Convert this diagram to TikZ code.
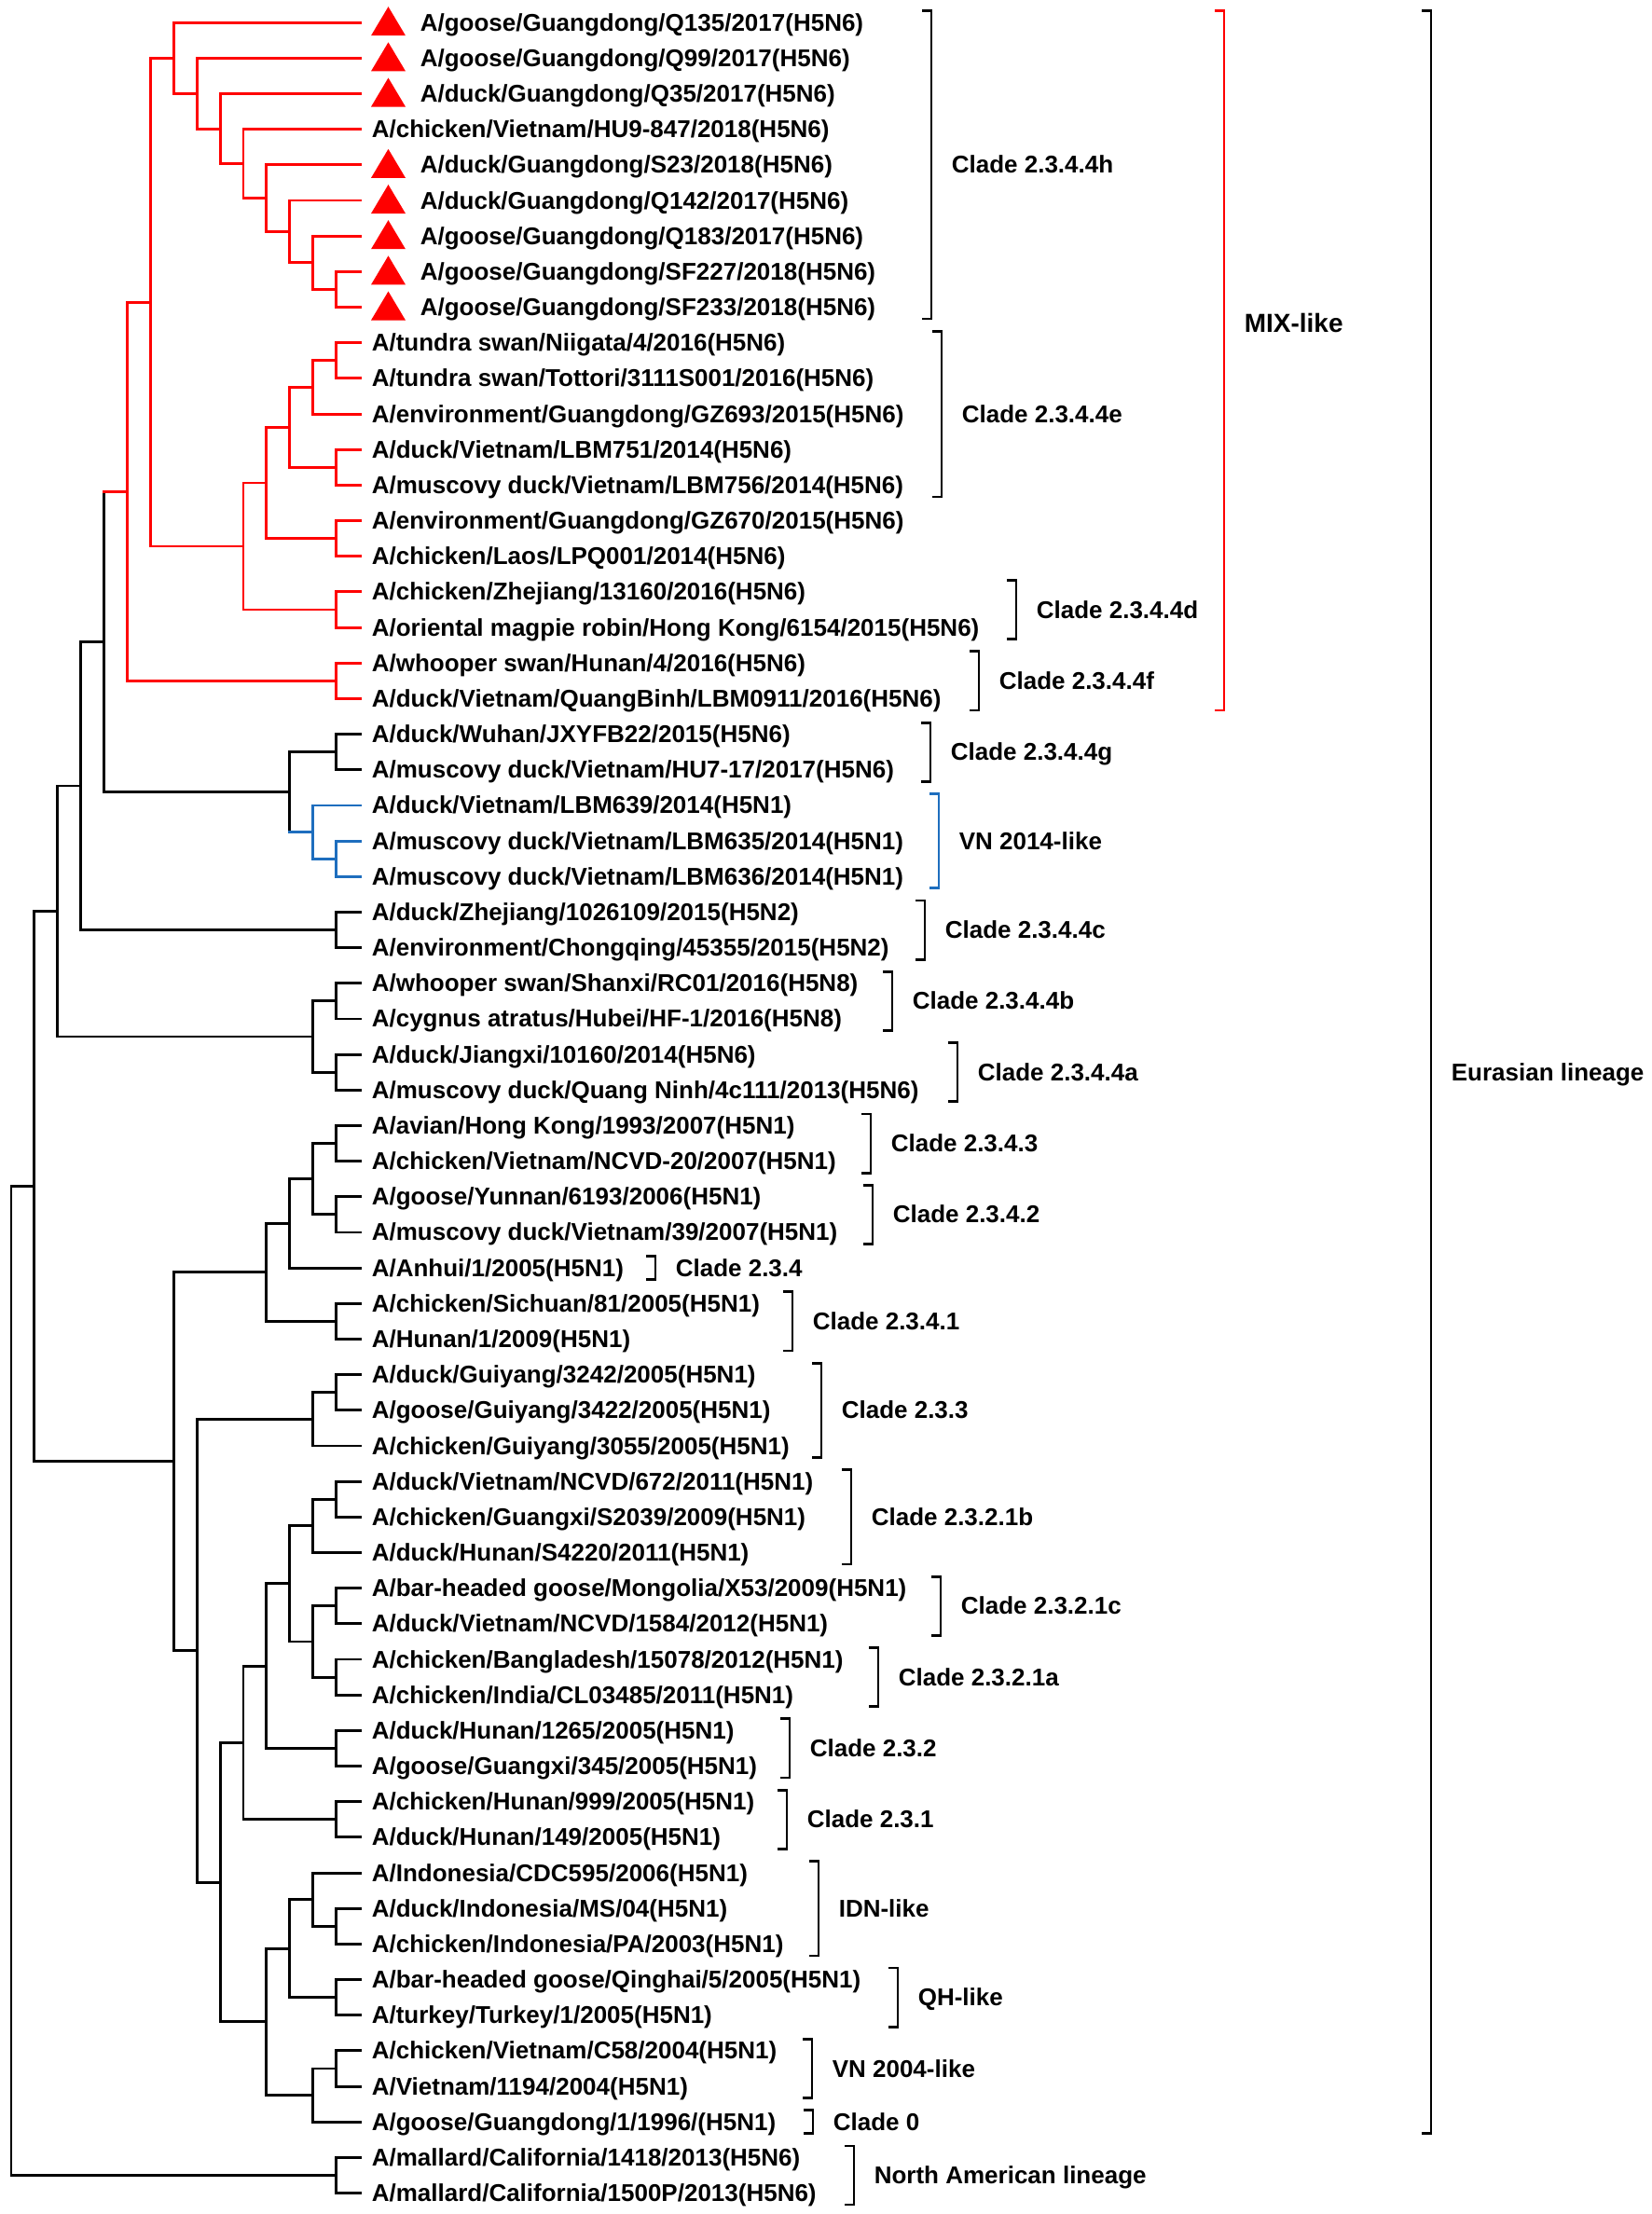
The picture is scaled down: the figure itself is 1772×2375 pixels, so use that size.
\documentclass[tikz,border=0pt]{standalone}
\usepackage{fontspec}
\setmainfont{Liberation Sans}
\usetikzlibrary{calc}
\definecolor{vnblue}{RGB}{30,110,190}
\definecolor{mixred}{RGB}{255,0,0}
\newcommand\LX[1]{(12+24.9*#1)}
\newcommand\RY[1]{(24.2+38.17*(#1-1))}
% leaf: row, text x, text
\newcommand\lf[3]{%
  \coordinate (L#1) at (387,{\RY{#1}});
  \node[leaftext] (t#1) at (#2,{\RY{#1}+9}) {#3};}
% leaf with red triangle
\newcommand\lft[2]{\lf{#1}{450}{#2}%
  \fill[tri] ($(L#1)+(11,14)$) -- ($(L#1)+(48,14)$) -- ($(L#1)+(29.5,-17)$) -- cycle;}
% internal node coordinate: name, level, child1, child2
\newcommand\nc[4]{\path let \p1=(#3), \p2=(#4) in coordinate (#1) at ({\LX{#2}*0.25pt},{(\y1+\y2)/2});}
% internal node with its edges
\newcommand\nd[5]{\nc{#1}{#2}{#3}{#4}\draw[#5] (#3) -| (#1) |- (#4);}
% bracket: style, first row, last row, x, name, label
\newcommand\brk[6]{%
  \draw[brk,#1] (#4-10,{\RY{#2}-12.5}) -- (#4,{\RY{#2}-12.5}) -- (#4,{\RY{#3}+12.5}) -- (#4-10,{\RY{#3}+12.5});
  \node[leaftext] (#5) at (#4+21,{(\RY{#2}+\RY{#3})/2+9}) {#6};}
\begin{document}
\begin{tikzpicture}[x=0.25pt,y=-0.25pt,
  tree/.style={line width=0.72pt,line join=miter,line cap=rect},
  mix/.style={tree,draw=mixred},
  vn/.style={tree,draw=vnblue},
  leaftext/.style={anchor=base west,inner sep=0pt,font=\fontsize{6.5}{7}\selectfont\bfseries},
  brk/.style={line width=0.7pt},
  tri/.style={fill=mixred}]
\fill[white] (0,0) rectangle (1772,2375);
\path[use as bounding box] (0,0) rectangle (1772,2375);
% leaves
\lft{1}{A/goose/Guangdong/Q135/2017(H5N6)}
\lft{2}{A/goose/Guangdong/Q99/2017(H5N6)}
\lft{3}{A/duck/Guangdong/Q35/2017(H5N6)}
\lf{4}{398}{A/chicken/Vietnam/HU9-847/2018(H5N6)}
\lft{5}{A/duck/Guangdong/S23/2018(H5N6)}
\lft{6}{A/duck/Guangdong/Q142/2017(H5N6)}
\lft{7}{A/goose/Guangdong/Q183/2017(H5N6)}
\lft{8}{A/goose/Guangdong/SF227/2018(H5N6)}
\lft{9}{A/goose/Guangdong/SF233/2018(H5N6)}
\lf{10}{398}{A/tundra swan/Niigata/4/2016(H5N6)}
\lf{11}{398}{A/tundra swan/Tottori/3111S001/2016(H5N6)}
\lf{12}{398}{A/environment/Guangdong/GZ693/2015(H5N6)}
\lf{13}{398}{A/duck/Vietnam/LBM751/2014(H5N6)}
\lf{14}{398}{A/muscovy duck/Vietnam/LBM756/2014(H5N6)}
\lf{15}{398}{A/environment/Guangdong/GZ670/2015(H5N6)}
\lf{16}{398}{A/chicken/Laos/LPQ001/2014(H5N6)}
\lf{17}{398}{A/chicken/Zhejiang/13160/2016(H5N6)}
\lf{18}{398}{A/oriental magpie robin/Hong Kong/6154/2015(H5N6)}
\lf{19}{398}{A/whooper swan/Hunan/4/2016(H5N6)}
\lf{20}{398}{A/duck/Vietnam/QuangBinh/LBM0911/2016(H5N6)}
\lf{21}{398}{A/duck/Wuhan/JXYFB22/2015(H5N6)}
\lf{22}{398}{A/muscovy duck/Vietnam/HU7-17/2017(H5N6)}
\lf{23}{398}{A/duck/Vietnam/LBM639/2014(H5N1)}
\lf{24}{398}{A/muscovy duck/Vietnam/LBM635/2014(H5N1)}
\lf{25}{398}{A/muscovy duck/Vietnam/LBM636/2014(H5N1)}
\lf{26}{398}{A/duck/Zhejiang/1026109/2015(H5N2)}
\lf{27}{398}{A/environment/Chongqing/45355/2015(H5N2)}
\lf{28}{398}{A/whooper swan/Shanxi/RC01/2016(H5N8)}
\lf{29}{398}{A/cygnus atratus/Hubei/HF-1/2016(H5N8)}
\lf{30}{398}{A/duck/Jiangxi/10160/2014(H5N6)}
\lf{31}{398}{A/muscovy duck/Quang Ninh/4c111/2013(H5N6)}
\lf{32}{398}{A/avian/Hong Kong/1993/2007(H5N1)}
\lf{33}{398}{A/chicken/Vietnam/NCVD-20/2007(H5N1)}
\lf{34}{398}{A/goose/Yunnan/6193/2006(H5N1)}
\lf{35}{398}{A/muscovy duck/Vietnam/39/2007(H5N1)}
\lf{36}{398}{A/Anhui/1/2005(H5N1)}
\lf{37}{398}{A/chicken/Sichuan/81/2005(H5N1)}
\lf{38}{398}{A/Hunan/1/2009(H5N1)}
\lf{39}{398}{A/duck/Guiyang/3242/2005(H5N1)}
\lf{40}{398}{A/goose/Guiyang/3422/2005(H5N1)}
\lf{41}{398}{A/chicken/Guiyang/3055/2005(H5N1)}
\lf{42}{398}{A/duck/Vietnam/NCVD/672/2011(H5N1)}
\lf{43}{398}{A/chicken/Guangxi/S2039/2009(H5N1)}
\lf{44}{398}{A/duck/Hunan/S4220/2011(H5N1)}
\lf{45}{398}{A/bar-headed goose/Mongolia/X53/2009(H5N1)}
\lf{46}{398}{A/duck/Vietnam/NCVD/1584/2012(H5N1)}
\lf{47}{398}{A/chicken/Bangladesh/15078/2012(H5N1)}
\lf{48}{398}{A/chicken/India/CL03485/2011(H5N1)}
\lf{49}{398}{A/duck/Hunan/1265/2005(H5N1)}
\lf{50}{398}{A/goose/Guangxi/345/2005(H5N1)}
\lf{51}{398}{A/chicken/Hunan/999/2005(H5N1)}
\lf{52}{398}{A/duck/Hunan/149/2005(H5N1)}
\lf{53}{398}{A/Indonesia/CDC595/2006(H5N1)}
\lf{54}{398}{A/duck/Indonesia/MS/04(H5N1)}
\lf{55}{398}{A/chicken/Indonesia/PA/2003(H5N1)}
\lf{56}{398}{A/bar-headed goose/Qinghai/5/2005(H5N1)}
\lf{57}{398}{A/turkey/Turkey/1/2005(H5N1)}
\lf{58}{398}{A/chicken/Vietnam/C58/2004(H5N1)}
\lf{59}{398}{A/Vietnam/1194/2004(H5N1)}
\lf{60}{398}{A/goose/Guangdong/1/1996/(H5N1)}
\lf{61}{398}{A/mallard/California/1418/2013(H5N6)}
\lf{62}{398}{A/mallard/California/1500P/2013(H5N6)}
% MIX-like clade
\nd{a14}{14}{L8}{L9}{mix}
\nd{a13}{13}{L7}{a14}{mix}
\nd{a12}{12}{L6}{a13}{mix}
\nd{a11}{11}{L5}{a12}{mix}
\nd{a10}{10}{L4}{a11}{mix}
\nd{a9}{9}{L3}{a10}{mix}
\nd{a8}{8}{L2}{a9}{mix}
\nd{a7}{7}{L1}{a8}{mix}
\nd{b14}{14}{L10}{L11}{mix}
\nd{b13}{13}{b14}{L12}{mix}
\nd{c14}{14}{L13}{L14}{mix}
\nd{b12}{12}{b13}{c14}{mix}
\nd{d14}{14}{L15}{L16}{mix}
\nd{b11}{11}{b12}{d14}{mix}
\nd{e14}{14}{L17}{L18}{mix}
\nd{b10}{10}{b11}{e14}{mix}
\nd{a6}{6}{a7}{b10}{mix}
\nd{f14}{14}{L19}{L20}{mix}
\nd{a5}{5}{a6}{f14}{mix}
% 2.3.4.4g and VN 2014-like
\nd{g14}{14}{L21}{L22}{tree}
\nd{h14}{14}{L24}{L25}{vn}
\nd{h13}{13}{L23}{h14}{vn}
\nc{g12}{12}{g14}{h13}
\draw[tree] (g14) -| (g12) -- (g12 |- h13);
\draw[vn] (g12 |- h13) -- (h13);
\nc{a4}{4}{a5}{g12}
\draw[tree] (a4 |- a5) -- (a4) |- (g12);
\draw[mix] (a4 |- a5) -- (a5);
% rest of the tree
\nd{i14}{14}{L26}{L27}{tree}
\nd{a3}{3}{a4}{i14}{tree}
\nd{j14}{14}{L28}{L29}{tree}
\nd{k14}{14}{L30}{L31}{tree}
\nd{j13}{13}{j14}{k14}{tree}
\nd{a2}{2}{a3}{j13}{tree}
\nd{m14}{14}{L32}{L33}{tree}
\nd{n14}{14}{L34}{L35}{tree}
\nd{m13}{13}{m14}{n14}{tree}
\nd{m12}{12}{m13}{L36}{tree}
\nd{o14}{14}{L37}{L38}{tree}
\nd{m11}{11}{m12}{o14}{tree}
\nd{p14}{14}{L39}{L40}{tree}
\nd{p13}{13}{p14}{L41}{tree}
\nd{q14}{14}{L42}{L43}{tree}
\nd{q13}{13}{q14}{L44}{tree}
\nd{r14}{14}{L45}{L46}{tree}
\nd{s14}{14}{L47}{L48}{tree}
\nd{r13}{13}{r14}{s14}{tree}
\nd{q12}{12}{q13}{r13}{tree}
\nd{t14}{14}{L49}{L50}{tree}
\nd{q11}{11}{q12}{t14}{tree}
\nd{u14}{14}{L51}{L52}{tree}
\nd{q10}{10}{q11}{u14}{tree}
\nd{v14}{14}{L54}{L55}{tree}
\nd{v13}{13}{L53}{v14}{tree}
\nd{w14}{14}{L56}{L57}{tree}
\nd{v12}{12}{v13}{w14}{tree}
\nd{x14}{14}{L58}{L59}{tree}
\nd{x13}{13}{x14}{L60}{tree}
\nd{v11}{11}{v12}{x13}{tree}
\nd{q9}{9}{q10}{v11}{tree}
\nd{p8}{8}{p13}{q9}{tree}
\nd{m7}{7}{m11}{p8}{tree}
\nd{a1}{1}{a2}{m7}{tree}
\nd{y14}{14}{L61}{L62}{tree}
\nd{root}{0}{a1}{y14}{tree}
% clade brackets
\brk{}{1}{9}{999}{c1}{Clade 2.3.4.4h}
\brk{}{10}{14}{1010}{c2}{Clade 2.3.4.4e}
\brk{}{17}{18}{1090}{c3}{Clade 2.3.4.4d}
\brk{}{19}{20}{1050}{c4}{Clade 2.3.4.4f}
\brk{}{21}{22}{998}{c5}{Clade 2.3.4.4g}
\brk{draw=vnblue}{23}{25}{1007}{c6}{VN 2014-like}
\brk{}{26}{27}{992}{c7}{Clade 2.3.4.4c}
\brk{}{28}{29}{957}{c8}{Clade 2.3.4.4b}
\brk{}{30}{31}{1027}{c9}{Clade 2.3.4.4a}
\brk{}{32}{33}{934}{c10}{Clade 2.3.4.3}
\brk{}{34}{35}{936}{c11}{Clade 2.3.4.2}
\brk{}{36}{36}{703}{c12}{Clade 2.3.4}
\brk{}{37}{38}{850}{c13}{Clade 2.3.4.1}
\brk{}{39}{41}{881}{c14}{Clade 2.3.3}
\brk{}{42}{44}{913}{c15}{Clade 2.3.2.1b}
\brk{}{45}{46}{1009}{c16}{Clade 2.3.2.1c}
\brk{}{47}{48}{942}{c17}{Clade 2.3.2.1a}
\brk{}{49}{50}{847}{c18}{Clade 2.3.2}
\brk{}{51}{52}{844}{c19}{Clade 2.3.1}
\brk{}{53}{55}{878}{c20}{IDN-like}
\brk{}{56}{57}{963}{c21}{QH-like}
\brk{}{58}{59}{871}{c22}{VN 2004-like}
\brk{}{60}{60}{872}{c23}{Clade 0}
\brk{}{61}{62}{916}{c24}{North American lineage}
\brk{}{1}{60}{1535}{c25}{Eurasian lineage}
% MIX-like bracket
\draw[brk,draw=mixred] (1303,{\RY{1}-12.5}) -- (1313,{\RY{1}-12.5}) -- (1313,{\RY{20}+12.5}) -- (1303,{\RY{20}+12.5});
\node[leaftext,font=\fontsize{7}{8}\selectfont\bfseries] (c26) at (1334,357) {MIX-like};
\end{tikzpicture}
\end{document}
